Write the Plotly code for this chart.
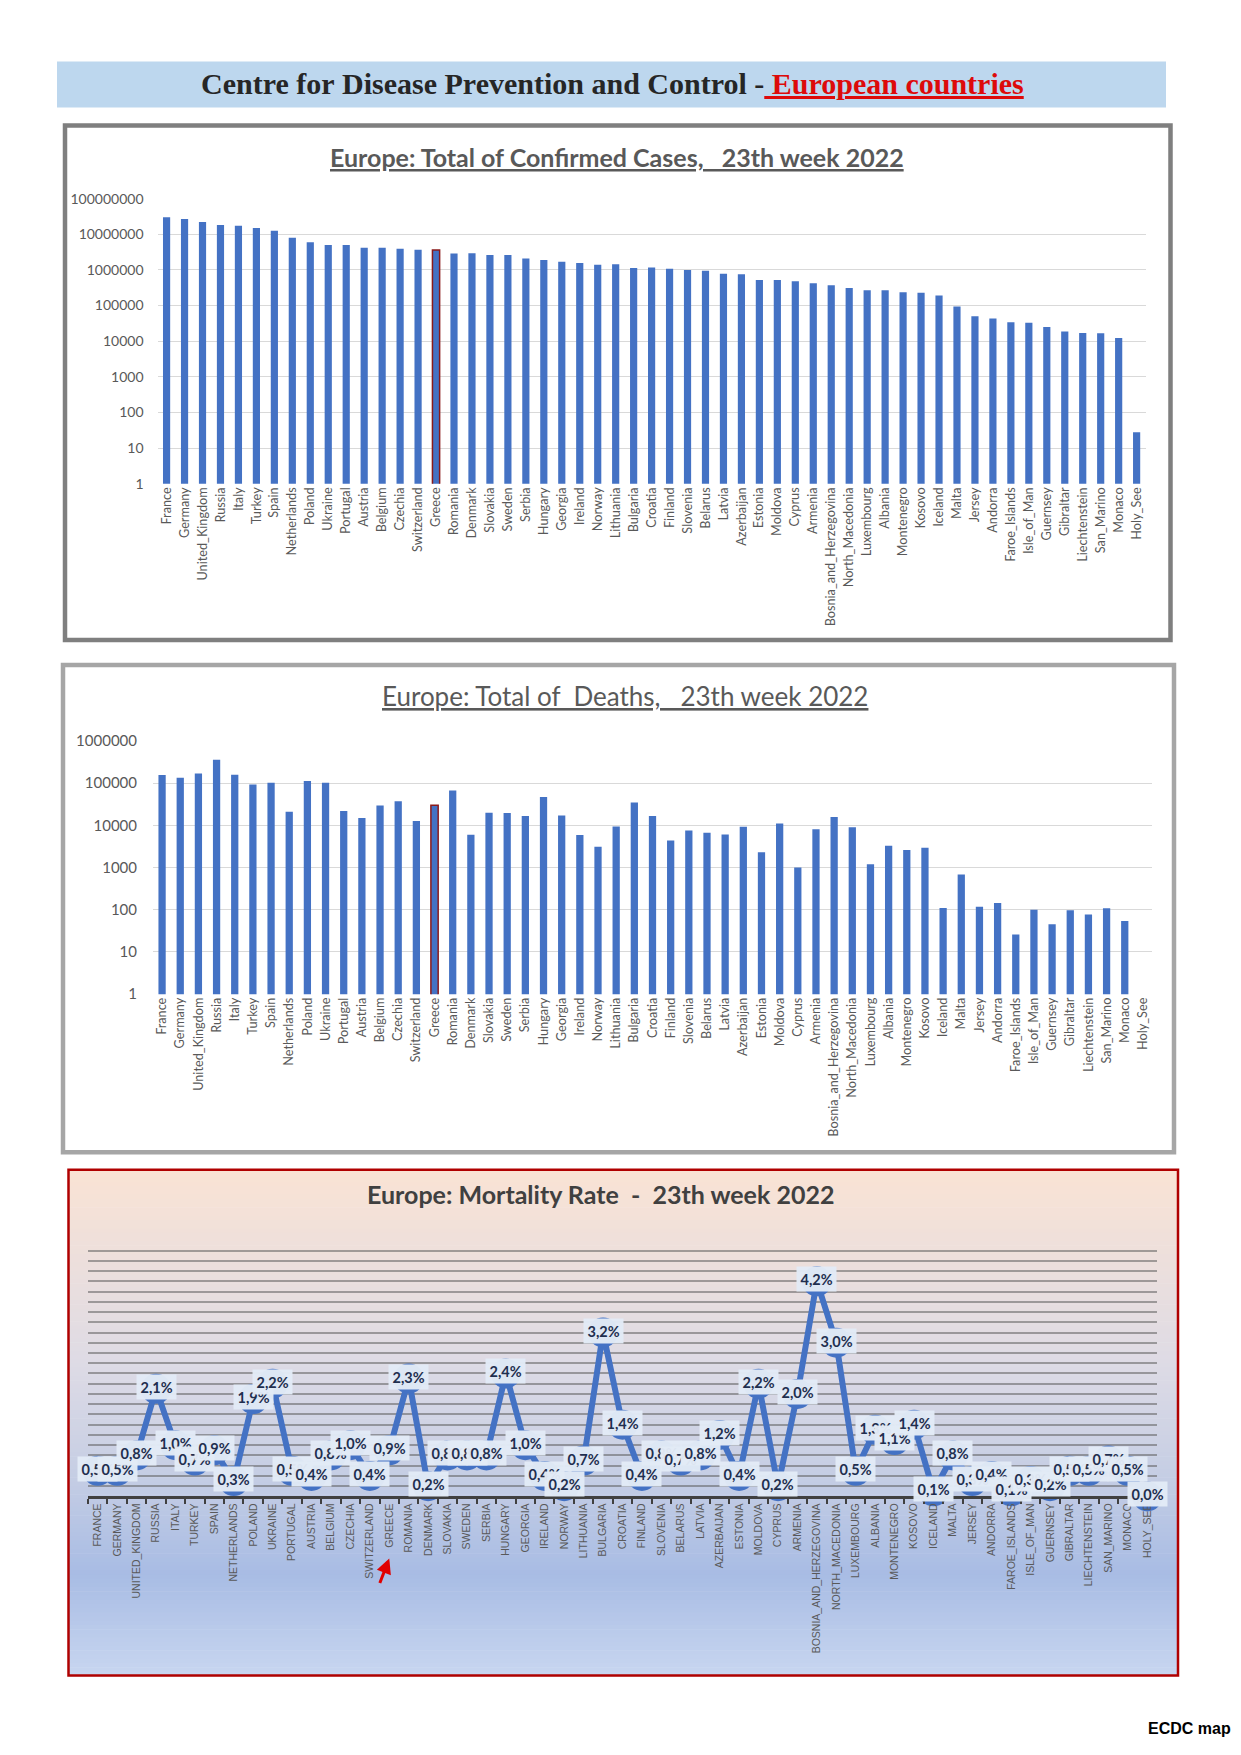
import plotly.graph_objects as go

# ---------------- data ----------------
countries = ["France", "Germany", "United_Kingdom", "Russia", "Italy", "Turkey", "Spain",
             "Netherlands", "Poland", "Ukraine", "Portugal", "Austria", "Belgium", "Czechia",
             "Switzerland", "Greece", "Romania", "Denmark", "Slovakia", "Sweden", "Serbia",
             "Hungary", "Georgia", "Ireland", "Norway", "Lithuania", "Bulgaria", "Croatia",
             "Finland", "Slovenia", "Belarus", "Latvia", "Azerbaijan", "Estonia", "Moldova",
             "Cyprus", "Armenia", "Bosnia_and_Herzegovina", "North_Macedonia", "Luxembourg",
             "Albania", "Montenegro", "Kosovo", "Iceland", "Malta", "Jersey", "Andorra",
             "Faroe_Islands", "Isle_of_Man", "Guernsey", "Gibraltar", "Liechtenstein",
             "San_Marino", "Monaco", "Holy_See"]

confirmed_cases = [29900000, 26900000, 22000000, 18200000, 17400000, 15000000, 12600000,
                   8000000, 6000000, 5000000, 5000000, 4200000, 4200000, 3900000,
                   3700000, 3600000, 2900000, 2950000, 2600000, 2600000, 2100000,
                   1900000, 1700000, 1550000, 1400000, 1430000, 1130000, 1160000,
                   1080000, 1000000, 940000, 780000, 750000, 520000, 520000,
                   480000, 420000, 370000, 310000, 270000,
                   270000, 235000, 230000, 190000, 94000, 50000, 43000,
                   34000, 33000, 25000, 18600, 17100,
                   16800, 12200, 28]

deaths = [155000, 134000, 170000, 358000, 158000, 93000, 102000,
          21000, 112000, 102000, 22000, 15000, 29600, 37500,
          12600, 30000, 67000, 6000, 20000, 19500, 16600,
          46700, 17200, 5900, 3100, 9400, 35000, 16600,
          4400, 7500, 6700, 6100, 9300, 2300, 11000,
          1000, 8100, 15800, 9000, 1200,
          3300, 2600, 2950, 110, 680, 118, 145,
          26, 100, 45, 97, 77,
          108, 54, None]

mortality_rate = [0.5, 0.5, 0.8, 2.1, 1.0, 0.7, 0.9,
                  0.3, 1.9, 2.2, 0.5, 0.4, 0.8, 1.0,
                  0.4, 0.9, 2.3, 0.2, 0.8, 0.8, 0.8,
                  2.4, 1.0, 0.4, 0.2, 0.7, 3.2, 1.4,
                  0.4, 0.8, 0.7, 0.8, 1.2, 0.4, 2.2,
                  0.2, 2.0, 4.2, 3.0, 0.5,
                  1.3, 1.1, 1.4, 0.1, 0.8, 0.3, 0.4,
                  0.1, 0.3, 0.2, 0.5, 0.5,
                  0.7, 0.5, 0.0]

cases_ticks = [1, 10, 100, 1000, 10000, 100000, 1000000, 10000000, 100000000]
deaths_ticks = [1, 10, 100, 1000, 10000, 100000, 1000000]
highlight = "Greece"

header_text = "Centre for Disease Prevention and Control -"
header_red = "European countries"
title_cases = "Europe: Total of Confirmed Cases,   23th week 2022"
title_deaths = "Europe: Total of  Deaths,   23th week 2022"
title_rate = "Europe: Mortality Rate  -  23th week 2022"
footer = "ECDC map"

# ---------------- geometry helpers ----------------
# the page body keeps its default 8px margin, so the figure is drawn 8px in
OFF = 8
FW, FH = 1241 - 2 * OFF, 1755 - 2 * OFF


def px(x):
    return (x - OFF) / FW


def py(y):
    yy = (y - 9.6) / 0.989
    return 1 - (yy - OFF) / FH


BLUE = "#4472C4"
GREY_TXT = "#595959"
nb = lambda s: s.replace(" ", "\u00a0")

fig = go.Figure()

bar_line_colors = ["#8B1A1A" if c == highlight else BLUE for c in countries]
bar_line_widths = [1.5 if c == highlight else 0 for c in countries]

fig.add_trace(go.Bar(x=countries, y=confirmed_cases, xaxis="x", yaxis="y",
                     marker=dict(color=BLUE, line=dict(color=bar_line_colors, width=bar_line_widths)),
                     width=0.4, showlegend=False))
fig.add_trace(go.Bar(x=countries, y=deaths, xaxis="x2", yaxis="y2",
                     marker=dict(color=BLUE, line=dict(color=bar_line_colors, width=bar_line_widths)),
                     width=0.4, showlegend=False))

countries_up = [c.upper() for c in countries]
fig.add_trace(go.Scatter(x=countries_up, y=mortality_rate, xaxis="x3", yaxis="y3",
                         mode="lines+markers", line=dict(color=BLUE, width=6),
                         marker=dict(color=BLUE, size=30), cliponaxis=False, showlegend=False))

shapes = []
# header band
shapes.append(dict(type="rect", xref="paper", yref="paper", x0=px(57), x1=px(1166), y0=py(107), y1=py(61),
                   fillcolor="#BDD7EE", line=dict(width=0), layer="below"))

# gradient background for the mortality panel
gx0, gx1, gy0, gy1 = 68, 1178, 1168, 1674
stops = [(0.0, (250, 227, 212)), (0.38, (222, 219, 229)), (0.60, (198, 206, 228)),
         (0.80, (168, 188, 228)), (1.0, (200, 214, 240))]


def grad(t):
    for (t0, c0), (t1, c1) in zip(stops[:-1], stops[1:]):
        if t0 <= t <= t1:
            f = (t - t0) / (t1 - t0)
            return "rgb(%d,%d,%d)" % tuple(round(a + (b - a) * f) for a, b in zip(c0, c1))
    return "rgb(%d,%d,%d)" % stops[-1][1]


n = 120
for i in range(n):
    ya = gy0 + (gy1 - gy0) * i / n
    yb = gy0 + (gy1 - gy0) * (i + 1) / n + 0.6
    shapes.append(dict(type="rect", xref="paper", yref="paper", x0=px(gx0), x1=px(gx1),
                       y0=py(yb), y1=py(ya), fillcolor=grad((i + 0.5) / n),
                       line=dict(width=0), layer="below"))

# frames
shapes.append(dict(type="rect", xref="paper", yref="paper", x0=px(65), x1=px(1170.5), y0=py(639), y1=py(125),
                   line=dict(color="#7F7F7F", width=4.5), fillcolor="rgba(0,0,0,0)"))
shapes.append(dict(type="rect", xref="paper", yref="paper", x0=px(63), x1=px(1174), y0=py(1151), y1=py(664),
                   line=dict(color="#A6A6A6", width=4.5), fillcolor="rgba(0,0,0,0)"))
shapes.append(dict(type="rect", xref="paper", yref="paper", x0=px(68.5), x1=px(1178), y0=py(1674), y1=py(1168.5),
                   line=dict(color="#B00000", width=2.5), fillcolor="rgba(0,0,0,0)"))

annotations = []
annotations.append(dict(xref="paper", yref="paper", x=px(612), y=py(83), showarrow=False,
                        text="<b>" + nb(header_text) + "<span style='color:#DD0A0A'><u>\u00a0" + nb(header_red) + "</u></span></b>",
                        font=dict(family="Liberation Serif", size=30, color="#262626"),
                        xanchor="center", yanchor="middle"))
annotations.append(dict(xref="paper", yref="paper", x=px(617), y=py(156), showarrow=False,
                        text="<b><u>" + nb(title_cases) + "</u></b>",
                        font=dict(family="Lato", size=25, color="#595959"), xanchor="center", yanchor="middle"))
annotations.append(dict(xref="paper", yref="paper", x=px(625), y=py(695), showarrow=False,
                        text="<u>" + nb(title_deaths) + "</u>",
                        font=dict(family="Lato", size=26, color="#595959"), xanchor="center", yanchor="middle"))
annotations.append(dict(xref="paper", yref="paper", x=px(600), y=py(1193), showarrow=False,
                        text="<b>" + nb(title_rate) + "</b>",
                        font=dict(family="Lato", size=25, color="#404040"), xanchor="center", yanchor="middle"))
annotations.append(dict(xref="paper", yref="paper", x=px(1233), y=0, showarrow=False,
                        text="<b>" + footer + "</b>",
                        font=dict(family="Liberation Sans", size=16, color="#000000"),
                        xanchor="right", yanchor="bottom"))

# mortality data labels
for c, r in zip(countries_up, mortality_rate):
    annotations.append(dict(xref="x3", yref="y3", x=c, y=r, showarrow=False,
                            text="<b>" + ("%.1f" % r).replace(".", ",") + "%</b>",
                            font=dict(family="Lato", size=14.5, color="#1F2F4F"),
                            bgcolor="rgba(226,234,246,0.97)", borderpad=3.5, yshift=2))

# red arrow pointing at GREECE
annotations.append(dict(xref="x3", yref="paper", x=highlight.upper(), y=py(1557), ax=-10, ay=26,
                        showarrow=True, arrowhead=2, arrowsize=1, arrowwidth=3, arrowcolor="#E00000",
                        text=""))

tick_font_x = dict(family="Lato", size=12.7, color=GREY_TXT)

fig.update_layout(
    width=FW, height=FH, margin=dict(l=0, r=0, t=0, b=0),
    paper_bgcolor="white", plot_bgcolor="rgba(0,0,0,0)",
    shapes=shapes, annotations=annotations,
    xaxis=dict(domain=[px(157.6), px(1145.6)], anchor="y", type="category", tickangle=-90,
               tickfont=tick_font_x, showline=False, ticks="", range=[-0.5, len(countries) - 0.5]),
    yaxis=dict(domain=[py(483), py(198)], anchor="x", type="log", range=[0, 8],
               tickvals=cases_ticks, ticktext=[str(v) for v in cases_ticks],
               tickfont=dict(family="Lato", size=14, color=GREY_TXT), gridcolor="#D9D9D9",
               gridwidth=1.2, zeroline=False, showline=False, ticklabelstandoff=13),
    xaxis2=dict(domain=[px(153), px(1152)], anchor="y2", type="category", tickangle=-90,
                tickfont=tick_font_x, showline=False, ticks="", range=[-0.5, len(countries) - 0.5]),
    yaxis2=dict(domain=[py(993), py(740)], anchor="x2", type="log", range=[0, 6],
                tickvals=deaths_ticks, ticktext=[str(v) for v in deaths_ticks],
                tickfont=dict(family="Lato", size=15, color=GREY_TXT), gridcolor="#D9D9D9",
                gridwidth=1.2, zeroline=False, showline=False, ticklabelstandoff=15),
    xaxis3=dict(domain=[px(88), px(1157)], anchor="y3", type="category", tickangle=-90,
                tickfont=dict(family="Liberation Sans", size=10.5, color=GREY_TXT),
                showline=True, linecolor="#404040", linewidth=2.5, ticks="outside", tickson="boundaries",
                ticklen=5, tickwidth=1.5, tickcolor="#404040", range=[-0.5, len(countries) - 0.5],
                showgrid=False),
    yaxis3=dict(domain=[py(1495), py(1239)], anchor="x3", range=[0, 5], dtick=0.2,
                showticklabels=False, gridcolor="rgba(95,95,95,0.55)", gridwidth=1.8,
                zeroline=False, showline=False),
)

fig.write_html("out.html")
